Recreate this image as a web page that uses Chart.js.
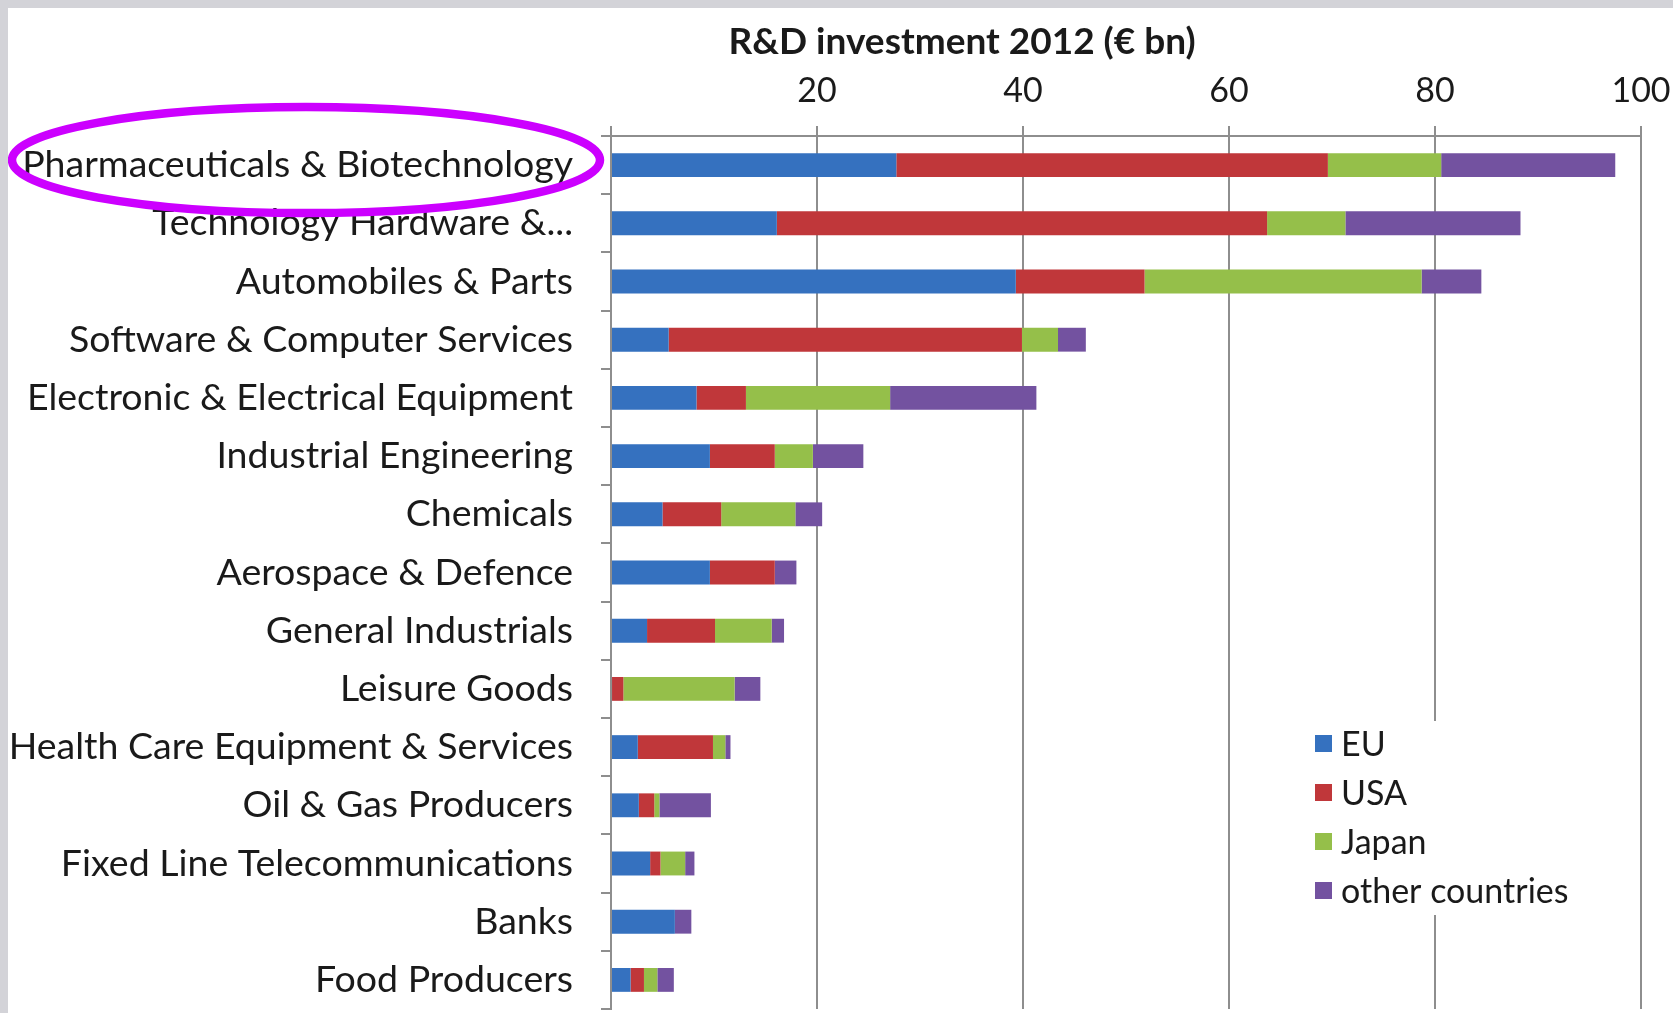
<!DOCTYPE html>
<html>
<head>
<meta charset="utf-8">
<script src="https://cdn.jsdelivr.net/npm/chart.js@4.4.1/dist/chart.umd.min.js"></script>
<style>
    body { margin: 0; background: #d3d3d8; }
    #wrap { position: absolute; left: 8px; top: 8px; width: 1665px; height: 1005px; background: #fff; }
</style>
</head>
<body>
<div id="wrap"><canvas id="rdChart" width="1665" height="1005"></canvas></div>
<script>
    // R&D investment 2012 by sector, € bn
    const sectors = [
        "Pharmaceuticals & Biotechnology",
        "Technology Hardware &...",
        "Automobiles & Parts",
        "Software & Computer Services",
        "Electronic & Electrical Equipment",
        "Industrial Engineering",
        "Chemicals",
        "Aerospace & Defence",
        "General Industrials",
        "Leisure Goods",
        "Health Care Equipment & Services",
        "Oil & Gas Producers",
        "Fixed Line Telecommunications",
        "Banks",
        "Food Producers"
    ];

    const eu     = [27.7, 16.1, 39.3,  5.6,  8.3, 9.6, 5.0, 9.6, 3.5,  0.1, 2.6, 2.7, 3.8, 6.2, 1.9];
    const usa    = [41.9, 47.6, 12.5, 34.3,  4.8, 6.3, 5.7, 6.3, 6.6,  1.1, 7.3, 1.5, 1.0, 0.0, 1.3];
    const japan  = [11.0,  7.6, 26.9,  3.5, 14.0, 3.7, 7.2, 0.0, 5.5, 10.8, 1.2, 0.5, 2.4, 0.0, 1.3];
    const others = [16.9, 17.0,  5.8,  2.7, 14.2, 4.9, 2.6, 2.1, 1.2,  2.5, 0.5, 5.0, 0.9, 1.6, 1.6];

    const xTicks = [0, 20, 40, 60, 80, 100];

    const FONT = "Lato, 'Open Sans', sans-serif";
    const gridColor = "#8e8e8e";

    // axis title sits above the tick labels
    const axisTitle = {
        id: "axisTitle",
        afterDraw(chart) {
            const ctx = chart.ctx;
            ctx.save();
            ctx.font = "bold 37px " + FONT;
            ctx.fillStyle = "#1a1a1a";
            ctx.textAlign = "center";
            ctx.textBaseline = "middle";
            ctx.fillText("R&D investment 2012 (€ bn)", 954, 34);
            ctx.restore();
        }
    };

    // legend box inside the plot, bottom right
    const boxLegend = {
        id: "boxLegend",
        afterDraw(chart) {
            const ctx = chart.ctx;
            ctx.save();
            ctx.fillStyle = "#fff";
            ctx.fillRect(1290, 713, 330, 194);
            ctx.font = "34px " + FONT;
            ctx.textBaseline = "middle";
            chart.data.datasets.forEach((ds, i) => {
                const y = 736 + i * 49;
                ctx.fillStyle = ds.backgroundColor;
                ctx.fillRect(1307, y - 9, 17, 17);
                ctx.fillStyle = "#1a1a1a";
                ctx.fillText(ds.label, 1333, y + 1);
            });
            ctx.restore();
        }
    };

    // highlight ring round the first sector label
    const highlight = {
        id: "highlight",
        afterDraw(chart) {
            const ctx = chart.ctx;
            const y = chart.scales.y.getPixelForValue(0) - 5;
            ctx.save();
            ctx.strokeStyle = "#cc00ff";
            ctx.lineWidth = 8.5;
            ctx.beginPath();
            ctx.ellipse(298, y, 294, 53, 0, 0, Math.PI * 2);
            ctx.stroke();
            ctx.restore();
        }
    };

    function drawChart() {
        const ctx = document.getElementById("rdChart").getContext("2d");

        window.rdChart = new Chart(ctx, {
            type: "bar",
            data: {
                labels: sectors,
                datasets: [
                    { label: "EU", data: eu, backgroundColor: "#3571bf" },
                    { label: "USA", data: usa, backgroundColor: "#c0373a" },
                    { label: "Japan", data: japan, backgroundColor: "#95bf4a" },
                    { label: "other countries", data: others, backgroundColor: "#7352a0" }
                ]
            },
            options: {
                indexAxis: "y",
                responsive: false,
                animation: false,
                layout: {
                    autoPadding: false,
                    padding: { top: 0, left: 0, right: 32, bottom: 4 }
                },
                datasets: {
                    bar: { categoryPercentage: 1, barPercentage: 0.41, borderWidth: 0 }
                },
                scales: {
                    x: {
                        position: "top",
                        stacked: true,
                        min: 0,
                        max: 100,
                        afterBuildTicks: s => { s.ticks = xTicks.map(v => ({ value: v })); },
                        afterFit: s => {
                            s.height = 128;
                            s.paddingLeft = 0;
                            s.paddingRight = 0;
                        },
                        ticks: {
                            padding: 15,
                            color: "#1a1a1a",
                            font: { family: FONT, size: 34 },
                            callback: v => v === 0 ? "" : v
                        },
                        grid: { color: gridColor, lineWidth: 2, tickLength: 10 },
                        border: { display: true, color: gridColor, width: 2 }
                    },
                    y: {
                        stacked: true,
                        afterFit: s => {
                            s.width = 603;
                            s.paddingTop = 0;
                            s.paddingBottom = 0;
                        },
                        ticks: {
                            padding: 28,
                            color: "#1a1a1a",
                            font: { family: FONT, size: 37.5 }
                        },
                        grid: {
                            offset: true,
                            drawOnChartArea: false,
                            color: gridColor,
                            lineWidth: 2,
                            tickLength: 10
                        },
                        border: { display: true, color: gridColor, width: 2 }
                    }
                },
                plugins: {
                    legend: { display: false },
                    tooltip: { enabled: false }
                }
            },
            plugins: [axisTitle, boxLegend, highlight]
        });
    }

    drawChart();
</script>
</body>
</html>
